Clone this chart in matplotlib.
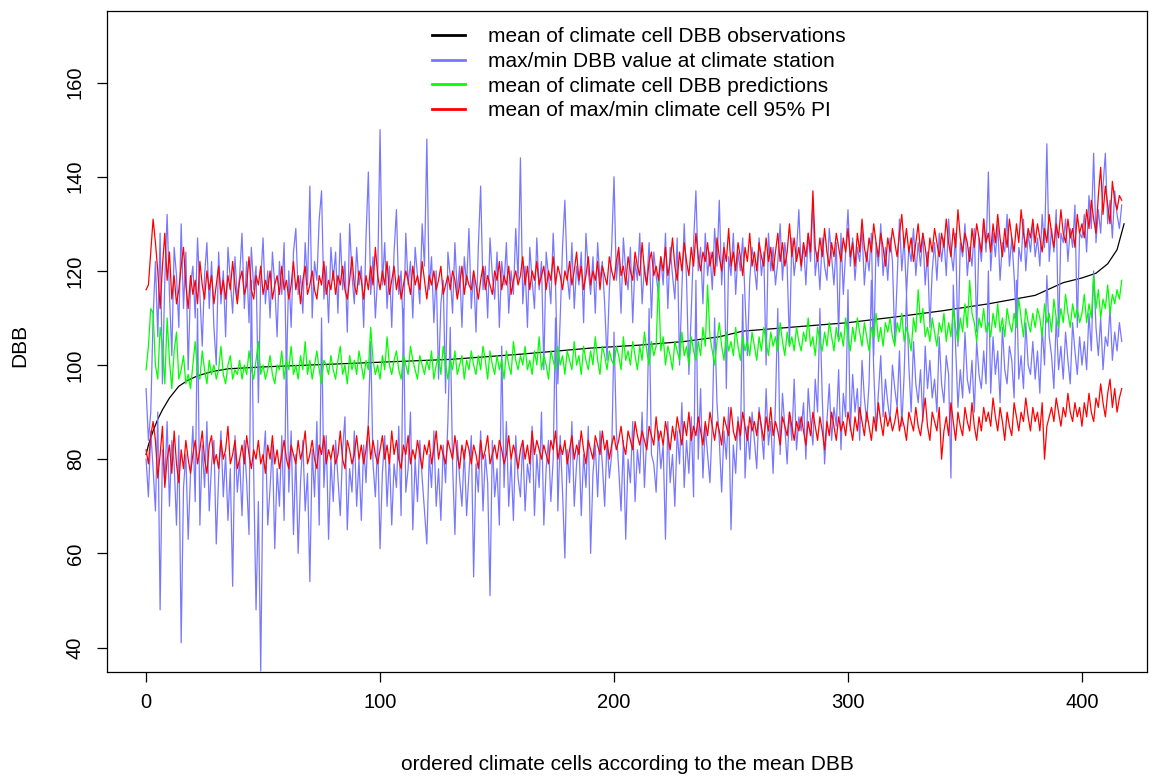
import matplotlib
matplotlib.use("Agg")
import matplotlib.pyplot as plt
from matplotlib.lines import Line2D
import numpy as np

plt.rcParams['font.family'] = ['Liberation Sans', 'DejaVu Sans']

# mean of climate cell DBB observations (smooth, sorted)
obs_x = [0, 1, 3, 5, 7, 10, 14, 18, 22, 28, 35, 50, 70, 100, 130, 160, 190, 210,
         230, 245, 255, 280, 300, 320, 340, 360, 380, 392, 400, 406, 411, 415, 418]
obs_y = [81, 83, 86, 88.5, 90.5, 93, 95.5, 96.8, 97.7, 98.6, 99.2, 99.6, 100, 100.6,
         101.2, 102.3, 103.6, 104.2, 105, 106, 107.2, 108.2, 109, 110.2, 111.5, 113,
         114.8, 117.5, 118.5, 119.5, 121.5, 124.5, 130]

# max/min DBB value at climate station
stat_max = [
    95, 84, 90, 110, 122, 106, 128, 96, 118, 132, 115, 102, 125, 119, 108, 130, 112, 124, 99, 117,
    121, 110, 127, 115, 104, 119, 126, 112, 122, 108, 100, 124, 113, 120, 106, 125, 118, 111, 123, 114,
    119, 128, 112, 122, 109, 125, 116, 121, 92, 118, 127, 113, 120, 110, 124, 117, 106, 122, 115, 126,
    98, 120, 108, 124, 129, 115, 119, 111, 126, 117, 138, 110, 122, 118, 131, 137, 114, 121, 109, 125,
    118, 124, 111, 128, 116, 122, 107, 130, 119, 113, 125, 117, 121, 108, 127, 141, 115, 123, 110, 119,
    150, 117, 126, 112, 121, 108, 124, 133, 115, 120, 106, 128, 117, 122, 110, 125, 119, 113, 130, 121,
    148, 116, 123, 109, 120, 97, 113, 118, 94, 124, 119, 111, 126, 115, 121, 108, 123, 117, 129, 112,
    120, 107, 125, 138, 116, 121, 110, 127, 119, 114, 124, 108, 122, 117, 126, 111, 120, 115, 129, 118,
    144, 113, 121, 108, 125, 118, 112, 127, 116, 122, 99, 124, 119, 113, 128, 117, 96, 110, 125, 135,
    119, 114, 126, 112, 121, 117, 124, 109, 128, 120, 115, 123, 111, 126, 118, 122, 113, 101, 116, 125,
    140, 118, 124, 111, 127, 120, 116, 125, 109, 122, 118, 128, 113, 121, 117, 126, 110, 124, 119, 115,
    123, 117, 128, 112, 125, 119, 114, 127, 100, 116, 130, 118, 98, 111, 126, 137, 120, 125, 113, 128,
    119, 124, 116, 129, 121, 135, 117, 126, 95, 123, 119, 128, 115, 124, 120, 127, 114, 102, 118, 125,
    121, 116, 127, 119, 124, 100, 128, 120, 125, 117, 122, 130, 118, 126, 121, 104, 127, 119, 124, 133,
    120, 126, 117, 128, 122, 135, 119, 124, 116, 127, 121, 118, 129, 123, 117, 126, 106, 128, 115, 124,
    133, 121, 127, 118, 125, 122, 129, 117, 124, 120, 128, 102, 126, 121, 130, 119, 125, 118, 127, 122,
    105, 118, 131, 120, 127, 115, 125, 122, 129, 119, 126, 121, 128, 117, 124, 108, 120, 126, 118, 128,
    122, 127, 119, 131, 124, 120, 128, 104, 126, 123, 130, 119, 125, 121, 129, 107, 127, 122, 131, 124,
    141, 120, 128, 123, 130, 118, 126, 124, 132, 121, 127, 119, 109, 125, 122, 131, 120, 128, 124, 130,
    123, 127, 121, 132, 125, 147, 122, 129, 124, 133, 106, 128, 126, 131, 122, 129, 125, 134, 108, 128,
    127, 132, 124, 136, 129, 145, 126, 133, 128, 138, 145, 130, 135, 127, 137, 132, 129, 134]

stat_min = [
    80, 72, 86, 78, 69, 90, 48, 82, 75, 88, 70, 84, 79, 66, 85, 41, 74, 81, 63, 77,
    87, 71, 112, 66, 83, 74, 88, 69, 79, 84, 62, 76, 86, 72, 81, 67, 78, 53, 85, 73,
    80, 68, 84, 75, 64, 118, 77, 48, 71, 35, 79, 86, 66, 74, 83, 61, 78, 70, 85, 67,
    104, 73, 86, 64, 81, 60, 75, 84, 69, 77, 54, 82, 72, 88, 66, 110, 74, 85, 63, 80,
    71, 84, 76, 68, 82, 89, 65, 78, 73, 86, 70, 80, 67, 83, 75, 88, 105, 79, 72, 84,
    61, 77, 85, 70, 81, 66, 79, 74, 87, 68, 112, 73, 78, 90, 65, 80, 71, 84, 76, 69,
    62, 81, 74, 86, 70, 78, 67, 83, 75, 88, 108, 79, 64, 84, 76, 70, 82, 68, 77, 85,
    55, 79, 73, 86, 69, 81, 75, 51, 84, 72, 78, 66, 104, 74, 88, 70, 80, 67, 85, 76,
    72, 84, 69, 79, 75, 87, 68, 81, 74, 90, 66, 78, 84, 71, 80, 110, 69, 85, 73, 59,
    82, 75, 88, 70, 79, 84, 68, 81, 74, 87, 60, 77, 83, 72, 86, 79, 70, 84, 76, 81,
    107, 86, 78, 69, 84, 63, 80, 75, 88, 71, 82, 77, 90, 74, 85, 112, 81, 79, 73, 86,
    78, 83, 63, 88, 75, 81, 70, 86, 79, 92, 74, 84, 77, 89, 72, 118, 80, 95, 76, 87,
    81, 75, 88, 110, 92, 84, 73, 86, 80, 91, 65, 83, 77, 89, 82, 115, 76, 87, 80, 90,
    84, 78, 91, 86, 80, 95, 83, 88, 77, 92, 112, 81, 94, 87, 79, 90, 84, 97, 82, 89,
    86, 92, 80, 95, 88, 83, 97, 90, 112, 93, 79, 88, 96, 84, 91, 87, 99, 82, 94, 89,
    116, 86, 98, 90, 95, 84, 101, 93, 88, 96, 118, 99, 86, 94, 102, 89, 97, 92, 88, 100,
    95, 91, 103, 87, 98, 115, 100, 90, 105, 96, 92, 99, 88, 104, 95, 101, 93, 97, 90, 106,
    96, 92, 102, 98, 76, 117, 104, 91, 99, 93, 107, 97, 94, 101, 90, 105, 98, 95, 103, 96,
    120, 94, 106, 98, 103, 92, 108, 99, 96, 104, 101, 93, 118, 97, 102, 95, 109, 100, 98, 105,
    97, 103, 94, 108, 100, 119, 106, 102, 95, 110, 99, 104, 97, 107, 101, 96, 109, 103, 98, 106,
    100, 105, 99, 111, 103, 120, 108, 102, 110, 99, 106, 104, 112, 101, 107, 103, 109, 105]

# mean of climate cell DBB predictions
pred = [
    99, 104, 112, 111, 100, 97, 108, 104, 96, 110, 101, 95, 103, 107, 97, 99, 102, 96, 98, 95,
    100, 105, 98, 97, 103, 99, 96, 101, 98, 100, 97, 99, 104, 98, 96, 100, 102, 97, 99, 98,
    101, 97, 100, 98, 103, 99, 97, 101, 105, 98, 100, 97, 99, 102, 98, 96, 100, 99, 103, 97,
    101, 99, 104, 98, 100, 97, 102, 99, 105, 98, 101, 97, 100, 103, 99, 96, 101, 100, 98, 102,
    99, 97, 101, 104, 98, 100, 96, 102, 99, 101, 98, 103, 100, 97, 101, 99, 108, 101, 98, 100,
    97, 102, 99, 106, 100, 98, 101, 103, 99, 97, 102, 100, 98, 104, 101, 99, 97, 102, 100, 98,
    101, 99, 103, 97, 100, 102, 98, 104, 100, 97, 101, 99, 103, 98, 100, 102, 97, 101, 99, 103,
    100, 98, 102, 99, 104, 101, 97, 103, 100, 98, 102, 99, 101, 97, 103, 100, 98, 105, 101, 99,
    102, 100, 104, 99, 101, 98, 103, 100, 106, 99, 102, 100, 97, 103, 101, 99, 104, 100, 102, 98,
    103, 101, 99, 105, 100, 102, 98, 104, 101, 99, 103, 100, 106, 101, 98, 104, 102, 99, 103, 101,
    100, 104, 102, 99, 106, 101, 103, 100, 105, 102, 99, 104, 101, 107, 103, 100, 105, 102, 104, 118,
    103, 106, 100, 104, 102, 99, 105, 103, 101, 107, 102, 104, 100, 106, 103, 101, 105, 102, 108, 104,
    117, 106, 103, 100, 105, 109, 104, 101, 107, 103, 105, 102, 108, 104, 101, 106, 103, 105, 102, 107,
    104, 101, 106, 103, 108, 105, 102, 107, 104, 106, 103, 109, 105, 102, 107, 104, 106, 103, 108, 105,
    103, 107, 105, 110, 104, 106, 102, 108, 105, 103, 107, 104, 109, 106, 103, 108, 105, 107, 104, 110,
    106, 103, 108, 105, 110, 107, 104, 109, 106, 103, 108, 106, 111, 105, 108, 104, 109, 107, 110, 106,
    104, 109, 107, 111, 105, 108, 106, 103, 110, 107, 116, 109, 112, 106, 108, 105, 110, 107, 104, 109,
    107, 111, 105, 109, 106, 112, 108, 105, 110, 107, 113, 108, 118, 111, 109, 105, 110, 108, 112, 107,
    109, 106, 111, 108, 113, 107, 110, 106, 112, 109, 107, 111, 108, 114, 110, 106, 112, 109, 107, 111,
    108, 112, 110, 106, 113, 109, 111, 107, 114, 110, 108, 112, 109, 115, 111, 108, 113, 110, 112, 109,
    111, 115, 109, 113, 110, 119, 112, 116, 110, 114, 112, 117, 111, 115, 113, 116, 114, 118]

# mean of max/min climate cell 95% PI
pi_max = [
    116, 117, 124, 131, 126, 120, 112, 121, 128, 118, 124, 114, 119, 113, 116, 121, 125, 117, 112, 119,
    115, 118, 113, 122, 117, 114, 120, 116, 119, 113, 117, 121, 115, 118, 114, 119, 116, 122, 117, 113,
    118, 120, 115, 117, 123, 116, 114, 119, 117, 121, 115, 118, 116, 120, 114, 117, 119, 115, 121, 116,
    118, 114, 117, 122, 116, 119, 113, 118, 121, 115, 117, 120, 116, 114, 119, 117, 122, 115, 118, 116,
    120, 115, 119, 117, 121, 116, 114, 118, 123, 117, 115, 120, 118, 114, 119, 116, 121, 117, 125, 119,
    116, 120, 117, 122, 115, 118, 121, 116, 119, 114, 117, 120, 118, 115, 121, 117, 119, 116, 122, 118,
    114, 119, 117, 120, 116, 118, 121, 115, 117, 119, 116, 120, 118, 114, 117, 121, 115, 119, 117, 116,
    120, 117, 114, 118, 121, 116, 119, 117, 115, 120, 118, 122, 116, 119, 117, 121, 115, 118, 120, 117,
    119, 123, 117, 121, 116, 120, 118, 122, 117, 119, 121, 116, 120, 118, 123, 117, 121, 119, 116, 120,
    118, 122, 117, 120, 124, 118, 121, 116, 119, 123, 117, 120, 118, 122, 116, 121, 119, 117, 123, 120,
    118, 122, 125, 119, 121, 117, 123, 120, 118, 124, 121, 119, 126, 120, 117, 122, 124, 119, 121, 118,
    123, 120, 125, 119, 122, 127, 121, 118, 124, 120, 126, 122, 119, 125, 121, 128, 123, 120, 124, 122,
    126, 121, 124, 119, 127, 123, 120, 125, 122, 129, 121, 124, 120, 126, 123, 119, 125, 122, 128, 121,
    124, 120, 126, 123, 121, 127, 122, 125, 120, 124, 128, 122, 126, 121, 124, 130, 123, 127, 122, 125,
    121, 126, 123, 128, 124, 137, 125, 122, 127, 123, 129, 124, 121, 126, 123, 128, 125, 122, 127, 124,
    129, 123, 126, 121, 128, 124, 131, 125, 122, 127, 124, 130, 126, 123, 128, 125, 121, 127, 124, 129,
    126, 123, 128, 132, 125, 129, 124, 127, 122, 126, 130, 124, 128, 125, 121, 127, 124, 129, 126, 123,
    128, 125, 131, 126, 123, 129, 125, 133, 127, 124, 128, 126, 122, 129, 125, 130, 127, 124, 131, 126,
    128, 124, 130, 126, 132, 127, 123, 129, 125, 131, 127, 124, 130, 126, 133, 128, 125, 129, 127, 131,
    126, 130, 127, 124, 129, 126, 132, 128, 125, 130, 127, 133, 128, 126, 131, 127, 129, 125, 132, 128,
    130, 127, 133, 129, 135, 131, 128, 136, 142, 132, 138, 134, 130, 139, 135, 133, 136, 135]

pi_min = [
    82, 79, 85, 88, 84, 76, 81, 87, 74, 80, 83, 77, 86, 79, 75, 82, 78, 84, 80, 77,
    81, 84, 79, 82, 86, 80, 77, 83, 85, 79, 81, 78, 84, 80, 82, 87, 79, 81, 84, 78,
    80, 83, 79, 85, 81, 78, 82, 80, 84, 79, 81, 77, 83, 80, 85, 79, 82, 78, 81, 84,
    80, 78, 83, 81, 79, 84, 80, 82, 86, 79, 81, 84, 80, 78, 83, 81, 85, 79, 82, 80,
    83, 79, 81, 86, 80, 78, 84, 82, 79, 81, 85, 80, 83, 79, 82, 87, 80, 84, 81, 79,
    82, 85, 80, 83, 79, 86, 81, 84, 80, 78, 83, 81, 85, 79, 82, 80, 84, 81, 78, 83,
    81, 84, 79, 82, 86, 80, 83, 81, 79, 84, 82, 80, 85, 81, 78, 83, 80, 84, 82, 79,
    83, 81, 78, 84, 80, 82, 85, 79, 81, 83, 80, 84, 82, 79, 81, 85, 80, 83, 81, 78,
    82, 84, 80, 83, 79, 86, 81, 84, 82, 80, 83, 81, 79, 84, 82, 86, 80, 83, 81, 84,
    79, 82, 85, 80, 83, 81, 86, 82, 79, 84, 82, 80, 85, 83, 81, 86, 82, 84, 80, 83,
    85, 82, 84, 87, 83, 81, 86, 84, 82, 88, 85, 83, 86, 84, 82, 87, 85, 83, 89, 84,
    86, 83, 88, 85, 82, 87, 84, 89, 86, 83, 88, 85, 90, 84, 87, 85, 89, 86, 83, 88,
    85, 90, 87, 84, 88, 86, 83, 89, 87, 85, 91, 86, 84, 88, 85, 90, 87, 84, 89, 86,
    88, 85, 90, 87, 84, 89, 86, 91, 85, 88, 86, 83, 89, 87, 85, 90, 87, 84, 88, 86,
    89, 86, 83, 88, 85, 90, 87, 84, 89, 86, 82, 88, 85, 90, 87, 84, 89, 86, 88, 85,
    90, 87, 84, 89, 86, 91, 88, 85, 90, 87, 84, 89, 86, 92, 88, 85, 90, 87, 89, 86,
    88, 91, 86, 89, 87, 84, 90, 88, 86, 91, 87, 85, 89, 93, 87, 84, 90, 88, 86, 91,
    80, 86, 89, 85, 92, 88, 84, 90, 87, 85, 91, 88, 86, 92, 87, 84, 89, 86, 91, 88,
    90, 87, 93, 89, 86, 91, 88, 84, 90, 87, 85, 92, 89, 86, 90, 88, 93, 89, 86, 91,
    88, 90, 86, 92, 80, 87, 89, 91, 88, 93, 90, 87, 91, 89, 94, 90, 88, 92, 89, 91,
    87, 92, 89, 94, 90, 88, 93, 91, 96, 92, 89, 94, 97, 91, 95, 90, 93, 95]

cells = np.arange(len(pred))

BLUE = '#7878ff'
GREEN = '#00ff00'
RED = '#ff0000'

fig = plt.figure(figsize=(11.52, 7.78), dpi=100)
ax = fig.add_axes([107/1152, 1 - 672/778, 1040/1152, 661/778])

lw = 0.9
ax.plot(obs_x, obs_y, color='black', lw=lw)
ax.plot(cells, stat_max, color=BLUE, lw=lw)
ax.plot(cells, stat_min, color=BLUE, lw=lw)
ax.plot(cells, pred, color=GREEN, lw=lw)
ax.plot(cells, pi_max, color=RED, lw=lw)
ax.plot(cells, pi_min, color=RED, lw=lw)

ax.set_xlim(-16.7, 427.8)
ax.set_ylim(34.8, 175.2)
ax.set_xticks([0, 100, 200, 300, 400])
ax.set_yticks([40, 60, 80, 100, 120, 140, 160])
ax.tick_params(axis='both', direction='out', length=7, width=0.9, labelsize=14.5, colors='black')
ax.tick_params(axis='x', pad=8)
ax.tick_params(axis='y', pad=9)
for lab in ax.get_yticklabels():
    lab.set_rotation(90)
    lab.set_va('center')
for s in ax.spines.values():
    s.set_linewidth(0.9)

# axis titles placed like R's mtext lines
fig.text(627/1152, 1 - 765/778, 'ordered climate cells according to the mean DBB',
         fontsize=15, ha='center', va='center')
fig.text(20/1152, 1 - 345/778, 'DBB', fontsize=15, ha='center', va='center', rotation=90)

handles = [Line2D([], [], color='black', lw=2),
           Line2D([], [], color=BLUE, lw=2),
           Line2D([], [], color=GREEN, lw=2),
           Line2D([], [], color=RED, lw=2)]
labels = ['mean of climate cell DBB observations',
          'max/min DBB value at climate station',
          'mean of climate cell DBB predictions',
          'mean of max/min climate cell 95% PI']
fig.legend(handles, labels, loc='upper left', bbox_to_anchor=(432/1152, 1 - 27/778),
           frameon=False, fontsize=15, handlelength=1.6, handletextpad=1.1,
           labelspacing=0.28, borderpad=0, borderaxespad=0)

fig.savefig('out.png', dpi=100)
